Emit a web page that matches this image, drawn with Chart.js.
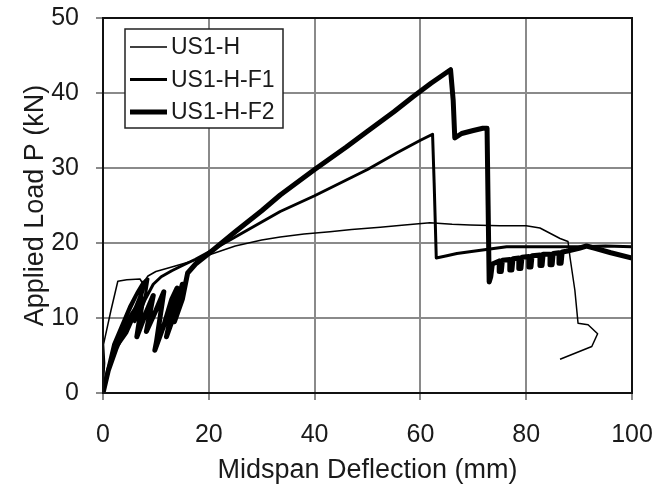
<!DOCTYPE html>
<html>
<head>
<meta charset="utf-8">
<script src="https://cdn.jsdelivr.net/npm/chart.js@4/dist/chart.umd.min.js"></script>
<style>
  html, body { margin: 0; padding: 0; background: #fff; }
  #wrap { width: 669px; height: 493px; }
</style>
</head>
<body>
<div id="wrap"><canvas id="chart" width="669" height="493"></canvas></div>
<script>
// deflection (mm) / load (kN)
const hX = [0, 0.3, 0.1, 1.5, 2.8, 4.5, 7, 7.5, 8.5, 10, 13, 17.4, 20, 25, 30, 33.5, 38, 42.9, 47, 52.4, 57, 61.8, 66, 69.4, 75, 80, 82.6, 84.5, 86.4, 87.9, 88.3, 89.2, 89.8, 91.7, 93.5, 92.4, 86.4];
const hY = [0, 4, 6.5, 11, 14.9, 15.1, 15.2, 14.6, 15.6, 16.2, 16.8, 17.7, 18.4, 19.6, 20.4, 20.8, 21.2, 21.5, 21.8, 22.1, 22.4, 22.7, 22.5, 22.4, 22.3, 22.3, 22, 21.3, 20.6, 20.2, 18, 13.7, 9.3, 9.1, 7.9, 6.2, 4.5];

const f1X = [0, 1, 2, 3.5, 5, 6.5, 7.6, 6.8, 4, 2, 3, 5, 7, 8, 7, 4.5, 3, 5, 7, 8.5, 8, 6, 6.5, 8, 9.5, 11, 13, 15, 17.4, 20, 25, 30, 33.5, 40, 46, 50, 55.5, 60, 62.3, 62.6, 63, 65, 66.9, 70, 76.3, 80, 85, 90.2, 95, 100];
const f1Y = [0, 3.5, 6.5, 9, 11.5, 13.5, 14.8, 12.5, 8, 5.8, 7.5, 11, 14, 15, 12, 8, 6.5, 9.5, 13, 15.2, 13, 9.5, 10, 12.5, 14.5, 15.5, 16.3, 17, 17.8, 18.8, 20.8, 22.8, 24.2, 26.3, 28.4, 29.8, 32, 33.7, 34.5, 28, 18, 18.3, 18.6, 18.9, 19.5, 19.5, 19.5, 19.5, 19.6, 19.5];

const f2X = [0, 1, 2.5, 4, 5.5, 7.5, 6.4, 8, 9.5, 8.2, 10, 11.5, 10.1, 9.8, 11.5, 13, 14, 12, 13.5, 15, 13.5, 15, 16, 17.5, 20, 25, 30, 33.5, 40, 46, 50, 55, 58.6, 62, 65.7, 66.2, 66.5, 67.8, 70, 71.8, 72.6, 72.8, 73, 73.3, 73.6,
  74.9, 74.9, 75.3, 75.5, 76.9, 76.9, 77.3, 77.5, 78.6, 78.6, 79, 79.2, 80.5, 80.5, 80.9, 81.1, 82.6, 82.6, 83, 83.2, 84.5, 84.5, 84.9, 85.1, 86.2, 86.2, 86.6, 86.8, 87.6, 90, 91.4, 93, 96, 100];
const f2Y = [0, 3, 6, 8.5, 10.5, 12.5, 7.5, 10.5, 13, 8.2, 11, 13.5, 6.8, 5.7, 9, 12.5, 14, 7.5, 10.5, 14.5, 9.5, 12.5, 16, 17.2, 18.6, 21.5, 24.3, 26.4, 29.8, 32.8, 34.9, 37.5, 39.5, 41.3, 43.1, 39, 34, 34.6, 35, 35.3, 35.3, 25, 14.8, 15.5, 17.2,
  17.6, 16.2, 16.2, 17.7, 17.8, 16.4, 16.4, 17.9, 18, 16.6, 16.6, 18.1, 18.2, 16.8, 16.8, 18.3, 18.4, 17, 17, 18.5, 18.5, 17.1, 17.1, 18.6, 18.7, 17.3, 17.3, 18.8, 18.9, 19.3, 19.6, 19.3, 18.7, 18];

const seriesNames = ["US1-H", "US1-H-F1", "US1-H-F2"];
const lineWidths = [1.5, 3, 5];
const xTicks = [0, 20, 40, 60, 80, 100];
const yTicks = [0, 10, 20, 30, 40, 50];

const toPts = (xs, ys) => xs.map((x, i) => ({ x: x, y: ys[i] }));

const FONT = "'Liberation Sans', Arial, sans-serif";
const TXT = "#1a1a1a";

// frame round the plot area + legend box inside it
const framePlugin = {
  id: "frame",
  afterDatasetsDraw(chart) {
    const { ctx, chartArea: a } = chart;
    ctx.save();
    ctx.strokeStyle = "#111";
    ctx.lineWidth = 2;
    ctx.strokeRect(a.left, a.top, a.right - a.left, a.bottom - a.top);

    // legend
    const bx = 125, by = 29, bw = 158, bh = 99;
    ctx.fillStyle = "#fff";
    ctx.fillRect(bx, by, bw, bh);
    ctx.strokeStyle = "#222";
    ctx.lineWidth = 1.5;
    ctx.strokeRect(bx, by, bw, bh);
    ctx.font = "23px " + FONT;
    ctx.textBaseline = "middle";
    seriesNames.forEach((name, i) => {
      const y = by + 18 + i * 32.5;
      ctx.strokeStyle = "#000";
      ctx.lineWidth = lineWidths[i];
      ctx.beginPath();
      ctx.moveTo(130, y);
      ctx.lineTo(167, y);
      ctx.stroke();
      ctx.fillStyle = TXT;
      ctx.fillText(name, 171, y + 1);
    });
    ctx.restore();
  }
};

const chart = new Chart(document.getElementById("chart"), {
  type: "scatter",
  data: {
    datasets: [
      { label: seriesNames[0], data: toPts(hX, hY), borderColor: "#000", borderWidth: lineWidths[0], order: 0 },
      { label: seriesNames[1], data: toPts(f1X, f1Y), borderColor: "#000", borderWidth: lineWidths[1], order: 1 },
      { label: seriesNames[2], data: toPts(f2X, f2Y), borderColor: "#000", borderWidth: lineWidths[2], order: 2 }
    ].map(d => Object.assign(d, { showLine: true, pointRadius: 0, tension: 0, fill: false, borderJoinStyle: "round" }))
  },
  options: {
    responsive: false,
    animation: false,
    layout: { padding: { top: 18, right: 37, left: 0, bottom: 0 } },
    plugins: { legend: { display: false }, tooltip: { enabled: false } },
    scales: {
      x: {
        type: "linear", min: 0, max: 100,
        afterFit: s => { s.height = 100; s.paddingLeft = 0; s.paddingRight = 0; },
        afterBuildTicks: s => { s.ticks = xTicks.map(v => ({ value: v })); },
        grid: { color: "#8a8a8a", lineWidth: 2, tickLength: 7 },
        border: { color: "#111", width: 2 },
        ticks: { color: TXT, font: { size: 25, family: FONT }, padding: 20, maxRotation: 0 },
        title: { display: true, text: "Midspan Deflection (mm)", color: TXT, font: { size: 27, family: FONT }, padding: { bottom: 6 } }
      },
      y: {
        type: "linear", min: 0, max: 50,
        afterFit: s => { s.width = 103; s.paddingTop = 0; s.paddingBottom = 0; },
        afterBuildTicks: s => { s.ticks = yTicks.map(v => ({ value: v })); },
        grid: { color: "#8a8a8a", lineWidth: 2, tickLength: 7 },
        border: { color: "#111", width: 2 },
        ticks: { color: TXT, font: { size: 25, family: FONT }, padding: 17 },
        title: { display: true, text: "Applied Load P (kN)", color: TXT, font: { size: 27, family: FONT }, padding: { top: 19 } }
      }
    }
  },
  plugins: [framePlugin]
});
</script>
</body>
</html>
